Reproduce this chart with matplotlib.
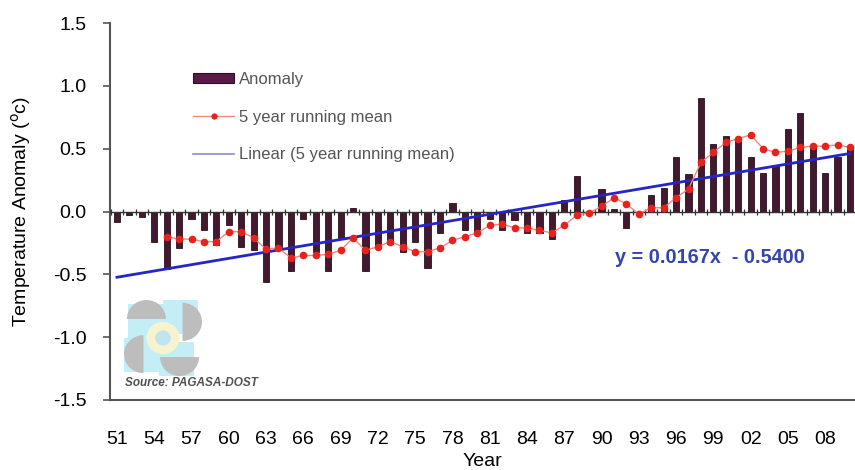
import matplotlib
matplotlib.use("Agg")
import matplotlib.pyplot as plt
import numpy as np
from matplotlib.lines import Line2D
from matplotlib.patches import Circle, Patch, Rectangle, Wedge

plt.rcParams["font.family"] = ["Liberation Sans", "DejaVu Sans"]
plt.rcParams["axes.unicode_minus"] = False

# Annual mean temperature anomaly, Philippines (degC)
years = list(range(1951, 2011))
anomaly = [
    -0.08, -0.03, -0.04, -0.24, -0.46, -0.29, -0.06, -0.15, -0.27, -0.11,
    -0.28, -0.31, -0.56, -0.31, -0.47, -0.06, -0.32, -0.47, -0.21, 0.03,
    -0.47, -0.29, -0.26, -0.32, -0.24, -0.45, -0.17, 0.07, -0.15, -0.17,
    -0.06, -0.15, -0.07, -0.17, -0.17, -0.22, 0.09, 0.28, -0.02, 0.18,
    0.02, -0.13, -0.03, 0.13, 0.19, 0.43, 0.30, 0.90, 0.54, 0.60,
    0.56, 0.43, 0.31, 0.37, 0.66, 0.78, 0.51, 0.31, 0.43, 0.50,
]

# trailing 5-year running mean, first value at 1955
running_years = list(range(1955, 2011))
running_mean = [
    -0.20, -0.22, -0.22, -0.24, -0.24, -0.16, -0.16, -0.21, -0.30, -0.29,
    -0.37, -0.35, -0.35, -0.34, -0.31, -0.21, -0.31, -0.28, -0.24, -0.28,
    -0.32, -0.32, -0.29, -0.23, -0.20, -0.17, -0.11, -0.10, -0.13, -0.13,
    -0.15, -0.17, -0.11, -0.03, -0.01, 0.04, 0.11, 0.06, -0.02, 0.03,
    0.03, 0.11, 0.18, 0.39, 0.47, 0.55, 0.58, 0.61, 0.50, 0.47,
    0.48, 0.51, 0.52, 0.52, 0.53, 0.51,
]

# linear fit of the running mean, x counted 1..60 from 1951
trend_slope = 0.0167
trend_intercept = -0.5400

tick_years = years[::3]
tick_labels = [f"{y % 100:02d}" for y in tick_years]
y_ticks = [1.5, 1.0, 0.5, 0.0, -0.5, -1.0, -1.5]

BAR_FACE = "#43192f"
BAR_EDGE = "#2a0f1e"
RED = "#e8211c"
BLUE = "#2525c8"

fig = plt.figure(figsize=(8.55, 4.7), dpi=100)
ax = fig.add_axes([110 / 855, 70 / 470, 745 / 855, 377 / 470])

ax.bar(years, anomaly, width=0.5, color=BAR_FACE, edgecolor=BAR_EDGE, linewidth=0.6, zorder=2)

# category axis through zero, with ticks between the bars
ax.axhline(0.0, color="#333333", linewidth=1.0, zorder=3)
bounds = np.arange(years[0] - 0.5, years[-1] + 1.0, 1.0)
ax.plot(bounds, np.zeros_like(bounds), "|", color="#333333", markersize=5, markeredgewidth=0.9, zorder=3)

idx = np.arange(1, len(years) + 1)
trend = trend_slope * idx + trend_intercept
ax.plot(years, trend, color=BLUE, linewidth=2.0, zorder=4)

ax.plot(running_years, running_mean, "-", color="#f08a80", linewidth=1.0, zorder=5)
ax.plot(running_years, running_mean, "o", color=RED, markersize=5.5, markeredgewidth=0, zorder=6)

ax.set_xlim(1950.44, 2010.4)
ax.set_ylim(-1.5, 1.5)
ax.set_xticks(tick_years)
ax.set_xticklabels(tick_labels)
ax.set_yticks(y_ticks)
ax.set_yticklabels([f"{v:.1f}" for v in y_ticks])
ax.tick_params(axis="x", length=0, pad=22, labelsize=14)
ax.tick_params(axis="y", length=5, width=1.2, color="#555555", direction="out", pad=12, labelsize=14)
for side in ("top", "right"):
    ax.spines[side].set_visible(False)
for side in ("left", "bottom"):
    ax.spines[side].set_color("#555555")
    ax.spines[side].set_linewidth(1.5)

ax.set_xlabel("Year", fontsize=14, labelpad=4)
ax.set_ylabel(r"Temperature Anomaly ($^{\mathrm{o}}$c)", fontsize=14, labelpad=14)

handles = [
    Patch(facecolor="#5a1a48", edgecolor=BAR_EDGE, linewidth=0.8),
    Line2D([], [], color="#f08a80", linewidth=1.0, marker="o", markerfacecolor=RED,
           markeredgewidth=0, markersize=4.5),
    Line2D([], [], color="#8a8ad8", linewidth=1.2),
]
labels = ["Anomaly", "5 year running mean", "Linear (5 year running mean)"]
leg = ax.legend(handles, labels, loc="upper left", bbox_to_anchor=(0.111, 0.87), frameon=False,
                fontsize=12, labelspacing=1.35, handlelength=2.5, handleheight=0.5,
                handletextpad=0.3, borderpad=0, borderaxespad=0)
for txt in leg.get_texts():
    txt.set_color("#555555")

ax.text(1991.1, -0.37, "y = 0.0167x  - 0.5400", color="#3444b0", fontsize=14.3,
        fontweight="bold", va="center", ha="left", zorder=7)

# PAGASA logo, drawn faintly in the lower-left corner
logo = fig.add_axes([124 / 855, 94 / 470, 78 / 855, 76 / 470])
logo.set_xlim(0, 4)
logo.set_ylim(0, 4)
logo.axis("off")
cyan = "#c4eef6"
gray = "#bdbdbd"
for x0, y0 in ((0.2, 2.0), (2.0, 2.2), (0.0, 0.2), (1.8, 0.0)):
    logo.add_patch(Rectangle((x0, y0), 1.8, 1.8, facecolor=cyan, edgecolor="none"))
logo.add_patch(Wedge((1.15, 3.0), 1.0, 0, 180, facecolor=gray, edgecolor="none"))
logo.add_patch(Wedge((3.0, 2.85), 1.0, -90, 90, facecolor=gray, edgecolor="none"))
logo.add_patch(Wedge((1.0, 1.15), 1.0, 90, 270, facecolor=gray, edgecolor="none"))
logo.add_patch(Wedge((2.85, 1.0), 1.0, 180, 360, facecolor=gray, edgecolor="none"))
logo.add_patch(Circle((2.0, 2.0), 0.85, facecolor="#f7f3cf", edgecolor="none"))
logo.add_patch(Circle((2.0, 2.0), 0.4, facecolor="#bfe6ee", edgecolor="none"))

fig.text(125 / 855, (470 - 383) / 470, "Source: PAGASA-DOST", fontsize=8.5, style="italic",
         fontweight="bold", color="#505050", va="center", ha="left")

fig.savefig("out.png", dpi=100)
